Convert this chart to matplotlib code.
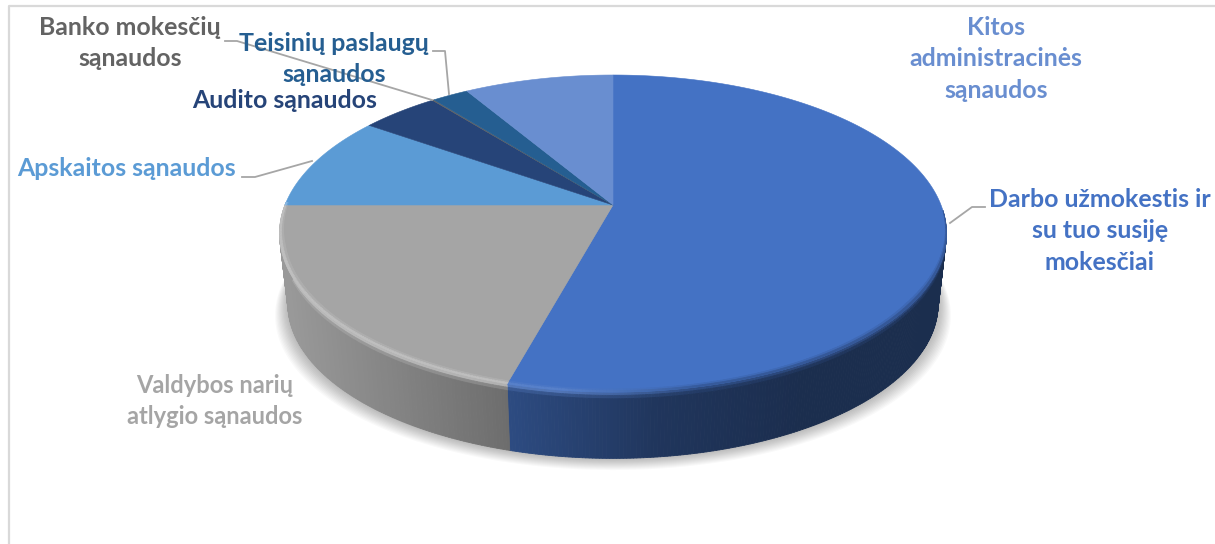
# coding:utf_8
import numpy as np
import matplotlib
matplotlib.use("Agg")
import matplotlib.pyplot as plt
from matplotlib.collections import PolyCollection
from matplotlib.colors import to_rgb

# shares in %, clockwise from 12 o'clock
labels = ["Darbo užmokestis ir\nsu tuo susiję\nmokesčiai",
          "Valdybos narių\natlygio sąnaudos",
          "Apskaitos sąnaudos",
          "Audito sąnaudos",
          "Banko mokesčių\nsąnaudos",
          "Teisinių paslaugų\nsąnaudos",
          "Kitos\nadministracinės\nsąnaudos"]
shares = [54.3, 20.7, 9.7, 4.5, 0.1, 2.1, 8.6]
colors = ["#4472c4", "#a5a5a5", "#5b9bd5", "#264478", "#636363", "#255e91", "#698ed0"]

label_xy = [(1100, 231), (215, 401), (126, 168), (285, 100), (130, 43), (334, 59), (996, 59)]
label_size = [17.9, 17.0, 17.9, 17.9, 17.9, 17.9, 17.9]
leaders = [[(950, 223), (972, 207), (985, 207)],
           [(242, 177), (255, 177), (312, 161)],
           [(225, 41), (237, 41), (432, 100)],
           [(433, 51), (445, 51), (449, 94)]]

# perspective of the disc, in pixels
CX, CY = 613.0, 205.0
A, B, K = 328.0, 153.4, 0.18
DEPTH, SHRINK = 71.0, 0.025


def project(theta_deg, radius=1.0, level=0.0):
    t = np.radians(theta_deg)
    u, v = radius * np.sin(t), radius * np.cos(t)
    w = 1 + K * v
    scale = 1 - SHRINK * level
    return CX + A * scale * u / w, CY + DEPTH * level - B * scale * v / w


def side_shade(x):
    return np.interp(x, [285, 510, 660, 800, 950], [0.93, 0.66, 0.47, 0.40, 0.40])


def band_color(base, x, pos):
    # pos 0 = top surface, 0.5 = edge highlight, 1 = side wall
    top = np.array(to_rgb(base))
    side = top * side_shade(x)
    h = np.interp(x, [285, 560, 700], [1, 1, 0])
    light = top + (1 - top) * (0.38 if base != "#4472c4" else 0.14)
    mid = h * light + (1 - h) * (top + side) / 2
    if pos < 0.5:
        return top + (mid - top) * pos * 2
    return mid + (side - mid) * (pos - 0.5) * 2


def strips(i, bands, step, lw, zorder):
    lo, hi = max(edges[i], 92.0), min(edges[i + 1], 271.0)
    if hi <= lo:
        return
    steps = np.arange(lo, hi + step, step)
    steps[-1] = hi
    polys, cols = [], []
    for a0, a1 in zip(steps[:-1], steps[1:]):
        # the rim gets narrower towards both ends of the front
        fade = np.interp(a0, [92, 125, 255, 271], [0.0, 1.0, 1.0, 0.5])
        for (r0, l0, p0), (r1, l1, p1) in zip(bands[:-1], bands[1:]):
            r0 = 1 - (1 - r0) * fade
            r1 = 1 - (1 - r1) * fade
            x0, y0 = project(a0, r0, l0)
            x1, y1 = project(a1, r0, l0)
            x2, y2 = project(a1, r1, l1)
            x3, y3 = project(a0, r1, l1)
            polys.append([(x0, y0), (x1, y1), (x2, y2), (x3, y3)])
            cols.append(band_color(colors[i], x0, (p0 + p1) / 2))
    ax.add_collection(PolyCollection(polys, facecolors=cols, edgecolors=cols, linewidths=lw, zorder=zorder))


fig = plt.figure(figsize=(12.15, 5.44), dpi=100)
ax = fig.add_axes([0, 0, 1, 1])
ax.set_xlim(0, 1215)
ax.set_ylim(544, 0)
ax.axis("off")

plt.rcParams["font.family"] = ["Lato", "DejaVu Sans"]

# chart frame
ax.plot([9, 9, 1215], [544, 6, 6], color="#d9d9d9", lw=1.6, zorder=1)

edges = np.concatenate([[0], np.cumsum(shares)]) * 3.6

# soft shadow below the wall
ring = np.arange(60, 300.5, 1.0)
for grow in np.linspace(13, 1, 12):
    sx, sy = project(ring, level=1.0)
    sx = CX + (sx - CX) * (1 + grow / 330)
    sy = sy + grow * 0.9
    ax.fill(sx, sy, color="#000000", alpha=0.022, lw=0, zorder=2)

# radius, level below the top, position in the shading
inner = [(0.986, 0.0, 0.0), (0.993, 0.0, 0.25), (1.0, 0.0, 0.5)]
wall = [(1.0, 0.0, 0.5), (1.0, 0.05, 0.75), (1.0, 0.1, 1.0), (1.0, 1.0, 1.0)]

for i in range(len(shares)):
    strips(i, wall, 0.5, 0.6, 3)

# top surface
for i in range(len(shares)):
    arc = np.arange(edges[i], edges[i + 1] + 0.25, 0.25)
    arc[-1] = edges[i + 1]
    px, py = project(arc)
    ax.fill(np.r_[CX, px], np.r_[CY, py], color=colors[i], lw=0.4, zorder=4)

for i in range(len(shares)):
    strips(i, inner, 0.5, 0.5, 5)

for pts in leaders:
    xs, ys = zip(*pts)
    ax.plot(xs, ys, color="#a6a6a6", lw=1.3, zorder=6)

for name, col, fs, (tx, ty) in zip(labels, colors, label_size, label_xy):
    ax.text(tx, ty, name, color=col, fontsize=fs, fontweight="bold", ha="center", va="center",
            linespacing=1.46, zorder=7)

plt.savefig("out.png", dpi=100)
